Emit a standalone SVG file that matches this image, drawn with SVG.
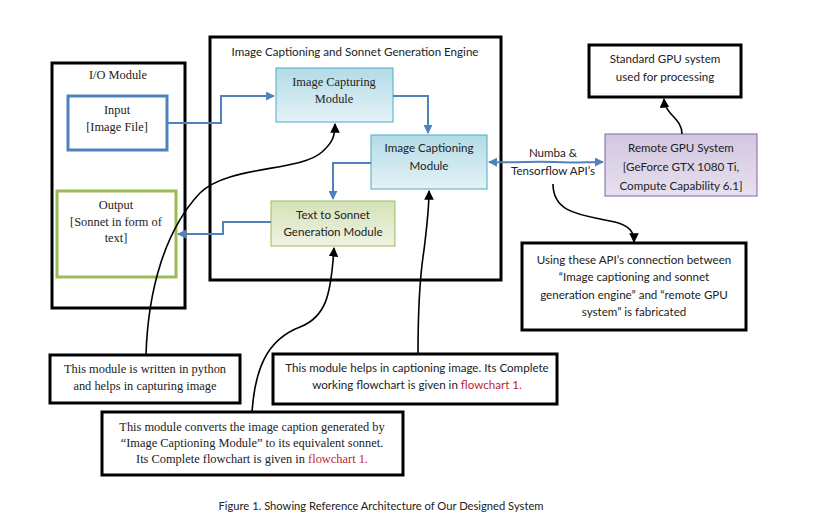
<svg xmlns="http://www.w3.org/2000/svg" width="824" height="526" viewBox="0 0 824 526">
<style>
.blk{fill:#fff;stroke:#000;stroke-width:3}
.serif{font-family:"Liberation Serif","Times New Roman",serif;font-size:12.4px;fill:#222;text-anchor:middle}
.sans{font-family:Lato,"Liberation Sans",sans-serif;font-size:11.6px;fill:#222;text-anchor:middle}
.red{fill:#c0272d}
.blue{fill:none;stroke:#4f81bd;stroke-width:2}
.curve{fill:none;stroke:#000;stroke-width:1.6}
</style>
<defs>
<linearGradient id="gBlue" x1="0" y1="0" x2="0" y2="1"><stop offset="0" stop-color="#b3dbe7"/><stop offset="1" stop-color="#e4f2f6"/></linearGradient>
<linearGradient id="gGreen" x1="0" y1="0" x2="0" y2="1"><stop offset="0" stop-color="#d5e2b8"/><stop offset="1" stop-color="#eef3e2"/></linearGradient>
<linearGradient id="gPurple" x1="0" y1="0" x2="0" y2="1"><stop offset="0" stop-color="#d2c7e0"/><stop offset="1" stop-color="#e6e0ee"/></linearGradient>
<marker id="aB" viewBox="0 0 10 10" refX="9" refY="5" markerWidth="4.5" markerHeight="4.5" orient="auto-start-reverse"><path d="M0,0L10,5L0,10z" fill="#4f81bd"/></marker>
<marker id="aK" viewBox="0 0 10 10" refX="9" refY="5" markerWidth="6" markerHeight="6" orient="auto"><path d="M0,0L10,5L0,10z" fill="#000"/></marker>
</defs>
<rect width="824" height="526" fill="#fff"/>

<g id="io-module">
<rect class="blk" x="52" y="63" width="133" height="245"/>
<text class="serif" x="118" y="79">I/O Module</text>
</g>
<g id="engine">
<rect class="blk" x="210" y="37" width="291" height="243"/>
<text class="sans" x="355" y="56">Image Captioning and Sonnet Generation Engine</text>
</g>
<g id="input">
<rect x="68" y="96" width="99" height="54" fill="#fff" stroke="#4f81bd" stroke-width="3"/>
<text class="serif" x="117" y="114">Input</text>
<text class="serif" x="117" y="131">[Image File]</text>
</g>
<g id="output">
<rect x="57" y="191" width="119" height="86" fill="#fff" stroke="#9bbb59" stroke-width="3"/>
<text class="serif" x="116" y="209">Output</text>
<text class="serif" x="116" y="226">[Sonnet in form of</text>
<text class="serif" x="116" y="242">text]</text>
</g>
<g id="image-capturing">
<rect x="276" y="68" width="117" height="54" fill="url(#gBlue)" stroke="#4bacc6" stroke-width="1"/>
<text class="serif" x="334" y="86">Image Capturing</text>
<text class="serif" x="334" y="103">Module</text>
</g>
<g id="image-captioning">
<rect x="371" y="135" width="116" height="54" fill="url(#gBlue)" stroke="#4bacc6" stroke-width="1"/>
<text class="sans" x="429" y="152">Image Captioning</text>
<text class="sans" x="429" y="170">Module</text>
</g>
<g id="text-to-sonnet">
<rect x="271" y="201" width="124" height="45" fill="url(#gGreen)" stroke="#9bbb59" stroke-width="1"/>
<text class="sans" x="333" y="219">Text to Sonnet</text>
<text class="sans" x="333" y="236">Generation Module</text>
</g>
<g id="remote-gpu">
<rect x="605" y="134" width="152" height="62" fill="url(#gPurple)" stroke="#8064a2" stroke-width="1"/>
<text class="sans" x="681" y="152">Remote GPU System</text>
<text class="sans" x="681" y="171">[GeForce GTX 1080 Ti,</text>
<text class="sans" x="681" y="190">Compute Capability 6.1]</text>
</g>
<g id="standard-gpu">
<rect class="blk" x="589" y="45" width="152" height="52"/>
<text class="sans" x="665" y="63">Standard GPU system</text>
<text class="sans" x="665" y="81">used for processing</text>
</g>
<g id="api-note">
<rect class="blk" x="522" y="243" width="224" height="87"/>
<text class="sans" x="634" y="264">Using these API’s connection between</text>
<text class="sans" x="634" y="281">“Image captioning and sonnet</text>
<text class="sans" x="634" y="299">generation engine” and “remote GPU</text>
<text class="sans" x="634" y="316">system” is fabricated</text>
</g>
<g id="python-note">
<rect class="blk" x="50" y="355" width="190" height="48"/>
<text class="serif" x="145" y="373">This module is written in python</text>
<text class="serif" x="145" y="390">and helps in capturing image</text>
</g>
<g id="captioning-note">
<rect class="blk" x="273" y="354" width="284" height="50"/>
<text class="sans" x="417" y="372">This module helps in captioning image. Its Complete</text>
<text class="sans" x="417" y="389">working flowchart is given in <tspan class="red">flowchart 1.</tspan></text>
</g>
<g id="sonnet-note">
<rect class="blk" x="102" y="412" width="301" height="63"/>
<text class="serif" x="252" y="431">This module converts the image caption generated by</text>
<text class="serif" x="252" y="447">“Image Captioning Module” to its equivalent sonnet.</text>
<text class="serif" x="252" y="463">Its Complete flowchart is given in <tspan class="red">flowchart 1.</tspan></text>
</g>

<g id="connectors">
<path class="blue" d="M167,123 H221 V96 H274" marker-end="url(#aB)"/>
<path class="blue" d="M393,96 H428 V133" marker-end="url(#aB)"/>
<path class="blue" d="M371,163 H333 V199" marker-end="url(#aB)"/>
<path class="blue" d="M271,222 H223 V234 H178" marker-end="url(#aB)"/>
<path class="blue" d="M489,162 C520,163 530,161 553,162 C575,163 585,162 603,162" marker-start="url(#aB)" marker-end="url(#aB)"/>
<text class="sans" x="553" y="157">Numba &amp;</text>
<text class="sans" x="553" y="175">Tensorflow API’s</text>
<path class="curve" d="M682,134 C682,118 665,115 664,99" marker-end="url(#aK)"/>
<path class="curve" d="M553,184 C553,215 585,215 615,222 C630,226 634,232 634,242" marker-end="url(#aK)"/>
<path class="curve" d="M146,355 C148,290 165,230 200,193 C228,165 300,172 322,152 C332,143 335,137 335,124" marker-end="url(#aK)"/>
<path class="curve" d="M252,412 C255,370 266,340 300,327 C326,317 331,295 334,248" marker-end="url(#aK)"/>
<path class="curve" d="M418,354 C418,310 420,275 424,250 C427,225 429,210 429,191" marker-end="url(#aK)"/>
</g>

<text x="381" y="510" font-family="Lato,'Liberation Sans',sans-serif" font-size="11.2px" fill="#222" text-anchor="middle">Figure 1. Showing Reference Architecture of Our Designed System</text>
</svg>
